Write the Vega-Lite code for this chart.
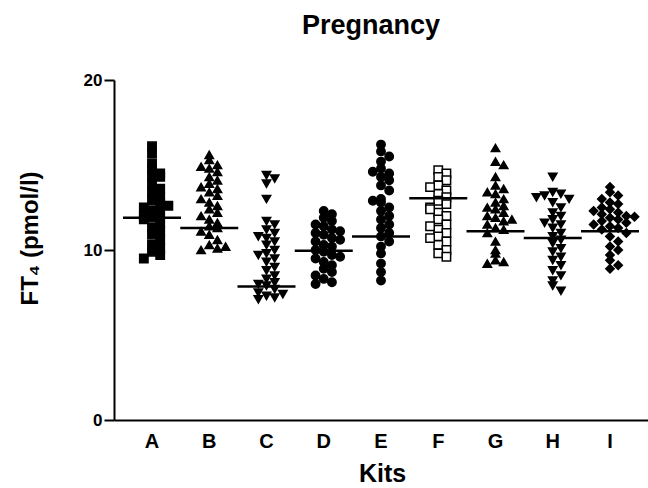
{
  "$schema": "https://vega.github.io/schema/vega-lite/v6.json",
  "width": 534,
  "height": 340,
  "autosize": "none",
  "padding": {"left": 114, "top": 80, "right": 0, "bottom": 68},
  "background": "white",
  "title": {"text": "Pregnancy", "fontSize": 27, "font": "Liberation Sans", "fontWeight": "bold", "color": "black", "offset": 31, "dx": -10},
  "config": {
    "view": {"stroke": null},
    "font": "Liberation Sans",
    "axis": {"labelFont": "Liberation Sans", "titleFont": "Liberation Sans", "labelFontWeight": "bold", "titleFontWeight": "bold", "labelColor": "black", "titleColor": "black", "domainColor": "black", "tickColor": "black", "grid": false}
  },
  "datasets": {
    "points": [
      {"kit":"A","ft4":16.1},{"kit":"A","ft4":15.7},{"kit":"A","ft4":15.1},{"kit":"A","ft4":14.8},{"kit":"A","ft4":14.5},{"kit":"A","ft4":14.4},{"kit":"A","ft4":14.3},{"kit":"A","ft4":13.9},{"kit":"A","ft4":13.6},{"kit":"A","ft4":13.4},{"kit":"A","ft4":13.1},{"kit":"A","ft4":12.9},{"kit":"A","ft4":12.7},{"kit":"A","ft4":12.5},{"kit":"A","ft4":12.3},{"kit":"A","ft4":12.2},{"kit":"A","ft4":12.0},{"kit":"A","ft4":11.9},{"kit":"A","ft4":11.6},{"kit":"A","ft4":11.3},{"kit":"A","ft4":11.1},{"kit":"A","ft4":10.9},{"kit":"A","ft4":10.6},{"kit":"A","ft4":10.3},{"kit":"A","ft4":10.1},{"kit":"A","ft4":9.9},{"kit":"A","ft4":9.7},{"kit":"A","ft4":9.5},{"kit":"A","ft4":11.8},{"kit":"A","ft4":12.6},
      {"kit":"B","ft4":15.6},{"kit":"B","ft4":15.3},{"kit":"B","ft4":15.0},{"kit":"B","ft4":14.8},{"kit":"B","ft4":14.6},{"kit":"B","ft4":14.3},{"kit":"B","ft4":14.1},{"kit":"B","ft4":13.9},{"kit":"B","ft4":13.6},{"kit":"B","ft4":13.4},{"kit":"B","ft4":13.2},{"kit":"B","ft4":13.0},{"kit":"B","ft4":12.8},{"kit":"B","ft4":12.6},{"kit":"B","ft4":12.4},{"kit":"B","ft4":12.2},{"kit":"B","ft4":12.0},{"kit":"B","ft4":11.8},{"kit":"B","ft4":11.6},{"kit":"B","ft4":11.4},{"kit":"B","ft4":11.3},{"kit":"B","ft4":11.1},{"kit":"B","ft4":10.9},{"kit":"B","ft4":10.6},{"kit":"B","ft4":10.3},{"kit":"B","ft4":10.1},{"kit":"B","ft4":10.0},{"kit":"B","ft4":10.2},{"kit":"B","ft4":14.9},{"kit":"B","ft4":13.7},
      {"kit":"C","ft4":14.4},{"kit":"C","ft4":14.2},{"kit":"C","ft4":13.9},{"kit":"C","ft4":13.0},{"kit":"C","ft4":11.7},{"kit":"C","ft4":11.5},{"kit":"C","ft4":11.2},{"kit":"C","ft4":11.0},{"kit":"C","ft4":10.7},{"kit":"C","ft4":10.5},{"kit":"C","ft4":10.3},{"kit":"C","ft4":10.0},{"kit":"C","ft4":9.8},{"kit":"C","ft4":9.5},{"kit":"C","ft4":9.3},{"kit":"C","ft4":9.0},{"kit":"C","ft4":8.8},{"kit":"C","ft4":8.5},{"kit":"C","ft4":8.3},{"kit":"C","ft4":8.1},{"kit":"C","ft4":7.9},{"kit":"C","ft4":7.7},{"kit":"C","ft4":7.5},{"kit":"C","ft4":7.3},{"kit":"C","ft4":7.2},{"kit":"C","ft4":7.1},{"kit":"C","ft4":8.0},{"kit":"C","ft4":9.7},{"kit":"C","ft4":10.8},{"kit":"C","ft4":7.4},
      {"kit":"D","ft4":12.3},{"kit":"D","ft4":12.1},{"kit":"D","ft4":11.9},{"kit":"D","ft4":11.7},{"kit":"D","ft4":11.5},{"kit":"D","ft4":11.4},{"kit":"D","ft4":11.2},{"kit":"D","ft4":11.0},{"kit":"D","ft4":10.9},{"kit":"D","ft4":10.7},{"kit":"D","ft4":10.5},{"kit":"D","ft4":10.3},{"kit":"D","ft4":10.2},{"kit":"D","ft4":10.0},{"kit":"D","ft4":9.9},{"kit":"D","ft4":9.7},{"kit":"D","ft4":9.5},{"kit":"D","ft4":9.3},{"kit":"D","ft4":9.1},{"kit":"D","ft4":8.9},{"kit":"D","ft4":8.7},{"kit":"D","ft4":8.5},{"kit":"D","ft4":8.3},{"kit":"D","ft4":8.1},{"kit":"D","ft4":8.0},{"kit":"D","ft4":10.6},{"kit":"D","ft4":11.1},{"kit":"D","ft4":9.6},
      {"kit":"E","ft4":16.2},{"kit":"E","ft4":15.8},{"kit":"E","ft4":15.5},{"kit":"E","ft4":15.2},{"kit":"E","ft4":14.8},{"kit":"E","ft4":14.5},{"kit":"E","ft4":14.3},{"kit":"E","ft4":14.1},{"kit":"E","ft4":13.8},{"kit":"E","ft4":13.5},{"kit":"E","ft4":13.0},{"kit":"E","ft4":12.8},{"kit":"E","ft4":12.5},{"kit":"E","ft4":12.3},{"kit":"E","ft4":12.0},{"kit":"E","ft4":11.8},{"kit":"E","ft4":11.5},{"kit":"E","ft4":11.3},{"kit":"E","ft4":11.0},{"kit":"E","ft4":10.8},{"kit":"E","ft4":10.5},{"kit":"E","ft4":10.2},{"kit":"E","ft4":9.8},{"kit":"E","ft4":9.2},{"kit":"E","ft4":8.7},{"kit":"E","ft4":8.2},{"kit":"E","ft4":14.6},{"kit":"E","ft4":12.9},
      {"kit":"F","ft4":14.7},{"kit":"F","ft4":14.5},{"kit":"F","ft4":14.3},{"kit":"F","ft4":14.1},{"kit":"F","ft4":13.8},{"kit":"F","ft4":13.5},{"kit":"F","ft4":13.3},{"kit":"F","ft4":13.1},{"kit":"F","ft4":12.9},{"kit":"F","ft4":12.7},{"kit":"F","ft4":12.5},{"kit":"F","ft4":12.2},{"kit":"F","ft4":12.0},{"kit":"F","ft4":11.8},{"kit":"F","ft4":11.5},{"kit":"F","ft4":11.2},{"kit":"F","ft4":11.0},{"kit":"F","ft4":10.8},{"kit":"F","ft4":10.5},{"kit":"F","ft4":10.3},{"kit":"F","ft4":10.0},{"kit":"F","ft4":9.8},{"kit":"F","ft4":9.6},{"kit":"F","ft4":13.7},{"kit":"F","ft4":12.4},{"kit":"F","ft4":11.4},{"kit":"F","ft4":10.7},
      {"kit":"G","ft4":16.0},{"kit":"G","ft4":15.2},{"kit":"G","ft4":15.0},{"kit":"G","ft4":14.3},{"kit":"G","ft4":13.8},{"kit":"G","ft4":13.6},{"kit":"G","ft4":13.3},{"kit":"G","ft4":13.0},{"kit":"G","ft4":12.8},{"kit":"G","ft4":12.6},{"kit":"G","ft4":12.4},{"kit":"G","ft4":12.2},{"kit":"G","ft4":12.0},{"kit":"G","ft4":11.9},{"kit":"G","ft4":11.7},{"kit":"G","ft4":11.5},{"kit":"G","ft4":11.3},{"kit":"G","ft4":11.2},{"kit":"G","ft4":11.0},{"kit":"G","ft4":10.5},{"kit":"G","ft4":10.0},{"kit":"G","ft4":9.8},{"kit":"G","ft4":9.4},{"kit":"G","ft4":9.3},{"kit":"G","ft4":9.2},{"kit":"G","ft4":12.5},{"kit":"G","ft4":11.8},{"kit":"G","ft4":13.4},
      {"kit":"H","ft4":14.3},{"kit":"H","ft4":13.4},{"kit":"H","ft4":13.3},{"kit":"H","ft4":13.2},{"kit":"H","ft4":13.0},{"kit":"H","ft4":12.8},{"kit":"H","ft4":12.5},{"kit":"H","ft4":12.2},{"kit":"H","ft4":12.0},{"kit":"H","ft4":11.8},{"kit":"H","ft4":11.5},{"kit":"H","ft4":11.3},{"kit":"H","ft4":11.0},{"kit":"H","ft4":10.8},{"kit":"H","ft4":10.6},{"kit":"H","ft4":10.4},{"kit":"H","ft4":10.1},{"kit":"H","ft4":9.9},{"kit":"H","ft4":9.6},{"kit":"H","ft4":9.4},{"kit":"H","ft4":9.1},{"kit":"H","ft4":8.8},{"kit":"H","ft4":8.5},{"kit":"H","ft4":8.2},{"kit":"H","ft4":7.9},{"kit":"H","ft4":7.6},{"kit":"H","ft4":13.1},{"kit":"H","ft4":11.6},
      {"kit":"I","ft4":13.7},{"kit":"I","ft4":13.4},{"kit":"I","ft4":13.2},{"kit":"I","ft4":13.0},{"kit":"I","ft4":12.8},{"kit":"I","ft4":12.7},{"kit":"I","ft4":12.5},{"kit":"I","ft4":12.4},{"kit":"I","ft4":12.2},{"kit":"I","ft4":12.1},{"kit":"I","ft4":12.0},{"kit":"I","ft4":11.9},{"kit":"I","ft4":11.8},{"kit":"I","ft4":11.7},{"kit":"I","ft4":11.6},{"kit":"I","ft4":11.5},{"kit":"I","ft4":11.4},{"kit":"I","ft4":11.3},{"kit":"I","ft4":11.2},{"kit":"I","ft4":11.0},{"kit":"I","ft4":10.8},{"kit":"I","ft4":10.5},{"kit":"I","ft4":10.2},{"kit":"I","ft4":10.0},{"kit":"I","ft4":9.7},{"kit":"I","ft4":9.4},{"kit":"I","ft4":9.1},{"kit":"I","ft4":8.9},{"kit":"I","ft4":12.3},{"kit":"I","ft4":11.95}
    ],
    "lines": [
      {"kit":"A","line":11.9},{"kit":"B","line":11.3},{"kit":"C","line":7.85},{"kit":"D","line":9.95},{"kit":"E","line":10.8},{"kit":"F","line":13.05},{"kit":"G","line":11.1},{"kit":"H","line":10.7},{"kit":"I","line":11.1}
    ]
  },
  "layer": [
    {
      "data": {"name": "points"},
      "transform": [
        {"bin": {"step": 0.5, "anchor": 0}, "field": "ft4", "as": "b"},
        {"window": [{"op": "row_number", "as": "slot"}], "groupby": ["kit", "b"]}
      ],
      "mark": {"type": "point", "filled": false, "stroke": "black", "strokeWidth": 1.5, "size": 70, "opacity": 1},
      "encoding": {
        "x": {"field": "kit", "type": "nominal", "scale": {"type": "band", "domain": ["A","B","C","D","E","F","G","H","I"], "paddingInner": 0, "paddingOuter": 0.164},
              "axis": {"title": "Kits", "labelAngle": 0, "labelFontSize": 20, "titleFontSize": 25, "ticks": false, "labelPadding": 11, "titlePadding": 10, "domainWidth": 2, "titleX": 268}},
        "xOffset": {"field": "slot", "type": "ordinal", "scale": {"domain": [7,5,3,1,2,4,6]}},
        "y": {"field": "ft4", "type": "quantitative", "scale": {"domain": [0, 20], "nice": false},
              "axis": {"title": "FT₄ (pmol/l)", "values": [0, 10, 20], "labelFontSize": 17, "titleFontSize": 24, "tickSize": 10, "tickWidth": 2, "domainWidth": 2, "labelPadding": 2, "titleX": -72, "titleY": 158}},
        "shape": {"field": "kit", "type": "nominal", "scale": {"domain": ["A","B","C","D","E","F","G","H","I"], "range": ["square","triangle-up","triangle-down","circle","circle","square","triangle-up","triangle-down","diamond"]}, "legend": null},
        "fill": {"condition": {"test": "datum.kit === 'F'", "value": "white"}, "value": "black"}
      }
    },
    {
      "data": {"name": "lines"},
      "mark": {"type": "tick", "orient": "horizontal", "color": "black", "size": 58, "thickness": 2.5, "opacity": 1},
      "encoding": {
        "x": {"field": "kit", "type": "nominal"},
        "y": {"field": "line", "type": "quantitative"}
      }
    }
  ]
}
